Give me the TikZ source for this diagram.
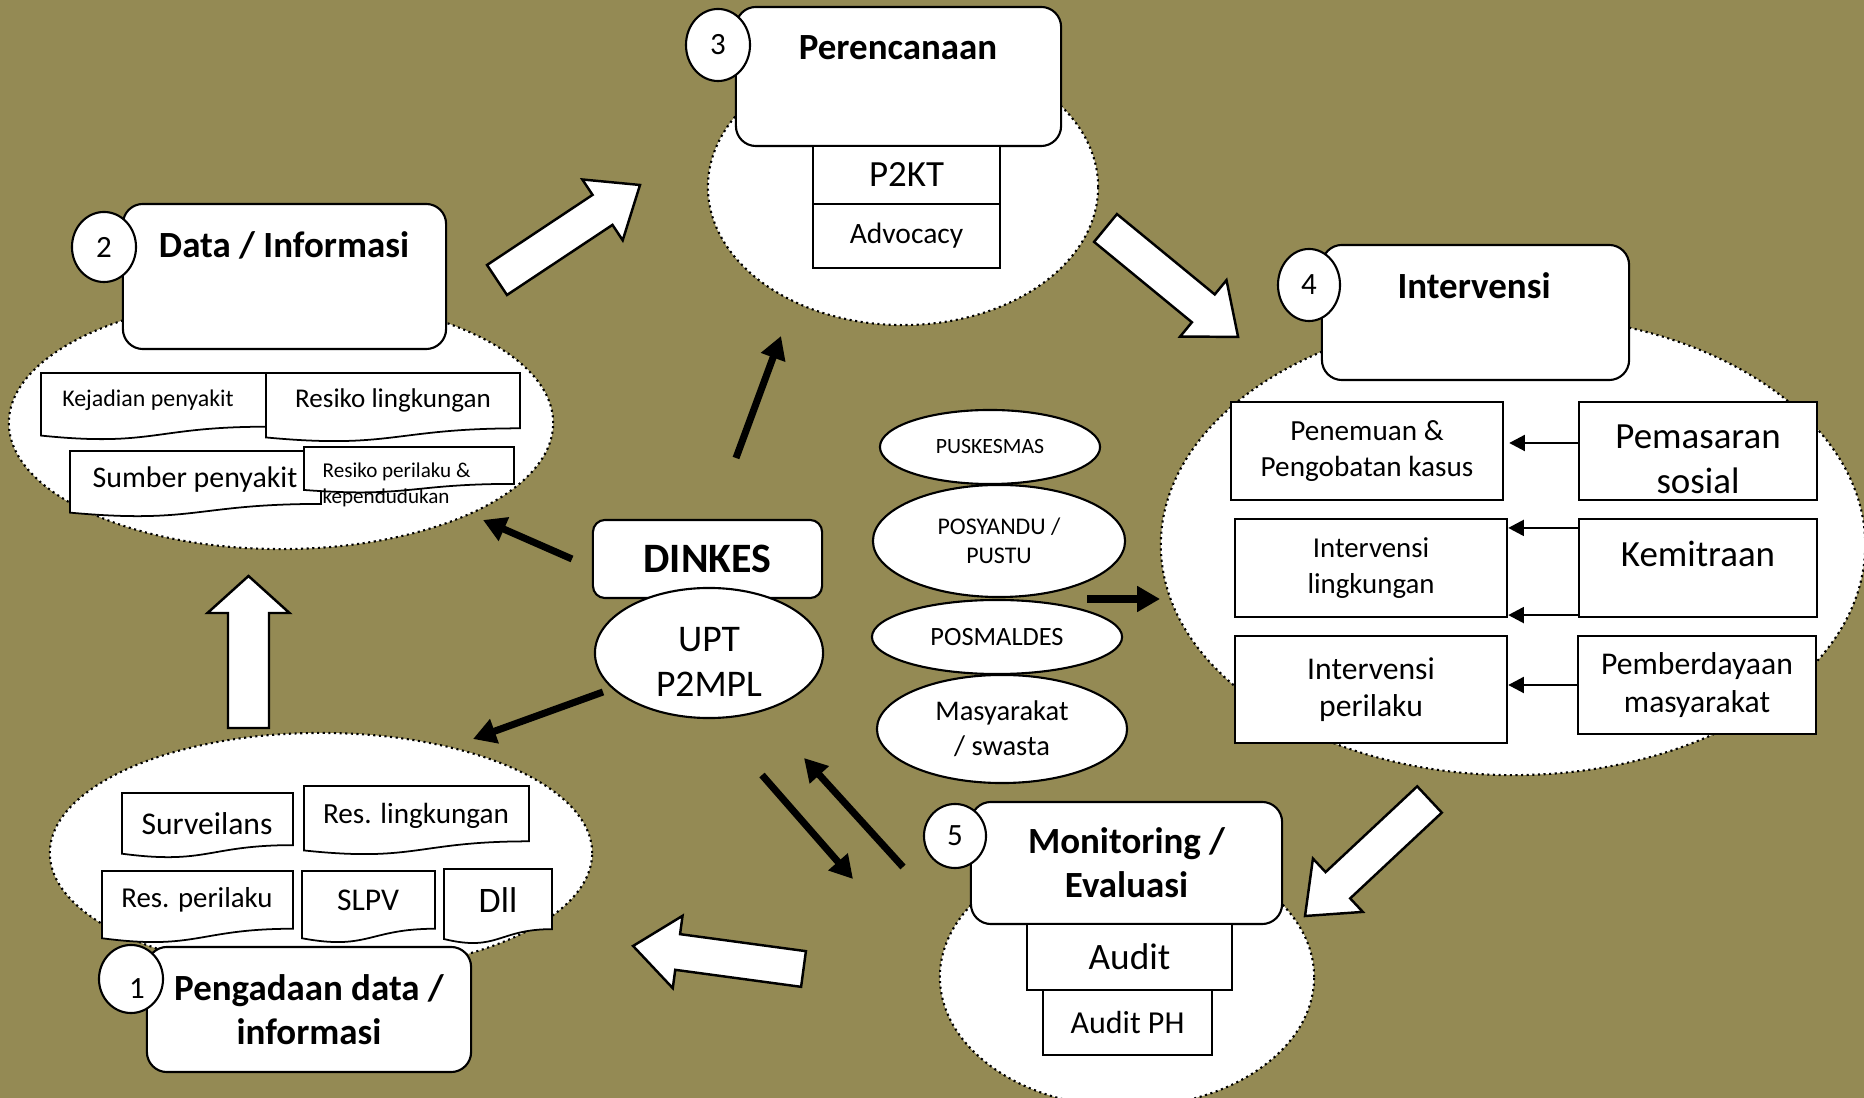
\documentclass[tikz,border=0pt]{standalone}
\usepackage{fontspec}
\setmainfont{Carlito}
\usepackage{tikz}
\usetikzlibrary{arrows.meta,calc,shapes.geometric}
\definecolor{olivebg}{RGB}{148,138,84}

% dokumen dengan tepi bawah bergelombang
\newcommand{\docshape}[4]{%
  \draw[docline] (#1,#2) -- (#3,#2) -- (#3,{#2+0.802*(#4-#2)})
    .. controls ({(#1+#3)/2},{#2+0.802*(#4-#2)}) and ({(#1+#3)/2},{#2+1.107*(#4-#2)}) .. (#1,{#2+0.934*(#4-#2)}) -- cycle;}
% panah blok putih: ekor, sudut, panjang, setengah badan, setengah kepala, panjang kepala
\newcommand{\fatarrow}[6]{%
  \draw[fatarr,shift={#1},rotate=#2]
    (0,#4) -- ({#3-#6},#4) -- ({#3-#6},#5) -- (#3,0)
    -- ({#3-#6},-#5) -- ({#3-#6},-#4) -- (0,-#4) -- cycle;}

\tikzset{
  bigell/.style={ellipse,draw,densely dotted,line width=0.6pt,fill=white,inner sep=0pt},
  headbox/.style={rectangle,rounded corners=0.2cm,draw,fill=white,line width=0.6pt,inner sep=0pt},
  numell/.style={ellipse,draw,fill=white,line width=0.6pt,inner sep=0pt,font=\fontsize{8.8}{10.5}\selectfont},
  sbox/.style={rectangle,draw,fill=white,line width=0.6pt,inner sep=0pt,align=center},
  midell/.style={ellipse,draw,fill=white,line width=0.6pt,inner sep=0pt,align=center},
  docline/.style={draw,fill=white,line width=0.5pt},
  dtext/.style={inner sep=0pt,align=center},
  hd/.style={font=\bfseries\fontsize{10.5}{12.5}\selectfont,align=center},
  fatarr/.style={draw,fill=white,line width=0.7pt,line join=miter},
  blk/.style={line width=2pt,-{Triangle[length=6.5pt,width=7pt]}},
  tarr/.style={line width=0.8pt,-{Triangle[length=4.5pt,width=4.5pt]}}
}

\begin{document}
\begin{tikzpicture}[x=0.01cm,y=-0.01cm]
  \clip (0,0) rectangle (1864,1098);
  \fill[olivebg] (0,0) rectangle (1864,1098);
  % elips latar
  \node[bigell,minimum width=5.44cm,minimum height=2.52cm] (ell2) at (281,423) {};
  \node[bigell,minimum width=5.42cm,minimum height=2.40cm] (ell1) at (321,853) {};
  \node[bigell,minimum width=3.90cm,minimum height=2.76cm] (ell3) at (903,187) {};
  \node[bigell,minimum width=7.04cm,minimum height=4.60cm] (ell4) at (1513,545) {};
  \node[bigell,minimum width=3.74cm,minimum height=2.60cm] (ell5) at (1127,977) {};

  % 2 data / informasi
  \node[headbox,minimum width=3.23cm,minimum height=1.45cm] (data) at (284.5,276.5) {};
  \node[numell,minimum width=0.64cm,minimum height=0.70cm] (n2) at (104,247) {2};
  \node[hd] (datat) at (284,245) {Data / Informasi};
  \docshape{41}{373}{266}{440}
  \node[dtext,font=\fontsize{6.8}{8.2}\selectfont] (kej) at (148,400) {Kejadian penyakit};
  \docshape{266}{373}{520}{442}
  \node[dtext,font=\fontsize{7.7}{9.2}\selectfont] (resl) at (393,400) {Resiko lingkungan};
  \docshape{70}{451}{321}{517}
  \node[dtext,font=\fontsize{8.5}{10.2}\selectfont] (sumb) at (195,480) {Sumber penyakit};
  \docshape{304}{447}{514}{493}
  \node[dtext,align=left,anchor=west,font=\fontsize{6}{7.4}\selectfont] (resp) at (322,485) {Resiko perilaku \&\\kependudukan};

  % 1 pengadaan data
  \node[headbox,hd,minimum width=3.24cm,minimum height=1.25cm] (peng) at (309,1009.5) {Pengadaan data /\\informasi};
  \node[numell,minimum width=0.64cm,minimum height=0.68cm] (n1) at (131,979) {};
  \node[font=\fontsize{8.8}{10.5}\selectfont] (n1t) at (137,989) {1};
  \docshape{122}{793}{293}{858}
  \node[dtext,font=\fontsize{9}{10.8}\selectfont] (surv) at (207,824) {Surveilans};
  \docshape{304}{786}{529}{855}
  \node[dtext,font=\fontsize{8.3}{10}\selectfont] (resl1) at (416,816) {Res. lingkungan};
  \docshape{102}{871}{293}{943}
  \node[dtext,font=\fontsize{8.2}{9.8}\selectfont] (resp1) at (197,900) {Res. perilaku};
  \docshape{302}{871}{435}{943}
  \node[dtext,font=\fontsize{9}{10.8}\selectfont] (slpv) at (368,900) {SLPV};
  \docshape{444}{869}{552}{944}
  \node[dtext,font=\fontsize{10.2}{12.2}\selectfont] (dll) at (498,900) {Dll};

  % 3 perencanaan
  \node[headbox,minimum width=3.25cm,minimum height=1.39cm] (pere) at (898.5,76.5) {};
  \node[numell,minimum width=0.64cm,minimum height=0.72cm] (n3) at (718,45) {3};
  \node[hd] (peret) at (898,48) {Perencanaan};
  \node[sbox,minimum width=1.87cm,minimum height=0.58cm,font=\fontsize{10.5}{12.6}\selectfont] (p2kt) at (906.5,175) {\raisebox{-0.06cm}{P2KT}};
  \node[sbox,minimum width=1.87cm,minimum height=0.64cm,font=\fontsize{8.4}{10}\selectfont] (advo) at (906.5,236) {Advocacy};

  % 4 intervensi
  \node[headbox,minimum width=3.07cm,minimum height=1.35cm] (interv) at (1475.5,312.5) {};
  \node[numell,minimum width=0.62cm,minimum height=0.72cm] (n4) at (1309,285) {4};
  \node[hd] (intervt) at (1474,286) {Intervensi};
  \node[sbox,minimum width=2.72cm,minimum height=0.98cm,font=\fontsize{8.3}{10.2}\selectfont] (pen) at (1367,451) {Penemuan \&\\Pengobatan kasus};
  \node[sbox,minimum width=2.38cm,minimum height=0.98cm] (pms) at (1698,451) {};
  \node[dtext,font=\fontsize{10.5}{12.7}\selectfont] (pmst) at (1698,459) {Pemasaran\\sosial};
  \node[sbox,minimum width=2.72cm,minimum height=0.98cm,font=\fontsize{8.2}{10}\selectfont] (ilk) at (1371,568) {Intervensi\\lingkungan};
  \node[sbox,minimum width=2.38cm,minimum height=0.98cm] (kem) at (1698,568) {};
  \node[dtext,font=\fontsize{10.5}{12.7}\selectfont] (kemt) at (1698,554) {Kemitraan};
  \node[sbox,minimum width=2.72cm,minimum height=1.07cm,font=\fontsize{9}{10.6}\selectfont] (ipr) at (1371,689.5) {Intervensi\\perilaku};
  \node[sbox,minimum width=2.38cm,minimum height=0.98cm,font=\fontsize{9}{10.6}\selectfont] (pmb) at (1697,685) {Pemberdayaan\\masyarakat};
  \draw[tarr,shorten >=0.05cm] ([yshift=0.08cm]pms.west) -- ([yshift=0.08cm]pen.east);
  \draw[tarr] ([yshift=-0.1cm]kem.north west) -- ([yshift=-0.1cm]ilk.north east);
  \draw[tarr] ([yshift=0.03cm]kem.south west) -- ([yshift=0.03cm]ilk.south east);
  \draw[tarr] (pmb.west) -- (pmb.west -| ipr.east);

  % 5 monitoring / evaluasi
  \node[headbox,hd,minimum width=3.11cm,minimum height=1.22cm] (moni) at (1126.5,863) {Monitoring /\\Evaluasi};
  \node[numell,minimum width=0.62cm,minimum height=0.64cm] (n5) at (955,836) {5};
  \node[sbox,minimum width=2.05cm,minimum height=0.66cm,font=\fontsize{10.6}{12.7}\selectfont] (audit) at (1129.5,957) {Audit};
  \node[sbox,minimum width=1.69cm,minimum height=0.65cm,font=\fontsize{9.1}{10.9}\selectfont] (auditph) at (1127.5,1022.5) {Audit PH};

  % tengah
  \node[headbox,rounded corners=0.12cm,minimum width=2.29cm,minimum height=0.78cm,font=\bfseries\fontsize{11.9}{14.3}\selectfont] (dinkes) at (707.5,559) {DINKES};
  \node[midell,minimum width=2.28cm,minimum height=1.30cm] (upt) at (709,653) {};
  \node[dtext,font=\fontsize{10.7}{12.6}\selectfont] (uptt) at (709,662) {UPT\\P2MPL};
  \node[midell,minimum width=2.20cm,minimum height=0.74cm,font=\fontsize{6.2}{7.5}\selectfont] (pusk) at (990,447) {PUSKESMAS};
  \node[midell,minimum width=2.52cm,minimum height=1.12cm,font=\fontsize{6.8}{8.2}\selectfont] (posy) at (999,541) {POSYANDU /\\PUSTU};
  \node[midell,minimum width=2.50cm,minimum height=0.74cm,font=\fontsize{7.5}{9}\selectfont] (posm) at (997,637) {POSMALDES};
  \node[midell,minimum width=2.50cm,minimum height=1.08cm,font=\fontsize{8.1}{9.7}\selectfont] (masy) at (1002,729) {\raisebox{-0.05cm}{\shortstack{Masyarakat\\/ swasta}}};

  % panah hitam
  \coordinate (a1s) at (736,458); \coordinate (a1e) at (781,336);
  \coordinate (a2s) at (572,559); \coordinate (a2e) at (483,520);
  \coordinate (a3s) at (603,692); \coordinate (a3e) at (473,739);
  \coordinate (a4s) at (1087,599); \coordinate (a4e) at (1160,599);
  \coordinate (a5s) at (762,775); \coordinate (a5e) at (853,879);
  \coordinate (a6s) at (903,867); \coordinate (a6e) at (804,758);
  \draw[blk] (a1s) -- (a1e);
  \draw[blk] (a2s) -- (a2e);
  \draw[blk] (a3s) -- (a3e);
  \draw[blk] (a4s) -- (a4e);
  \draw[blk] (a5s) -- (a5e);
  \draw[blk] (a6s) -- (a6e);

  % panah blok siklus
  \fatarrow{(248.5,728)}{90}{152}{20.5}{41}{37}
  \fatarrow{(497,280)}{33.6}{171.7}{18}{36.5}{45}
  \fatarrow{(1105.5,228)}{-39.4}{171.6}{18}{36.5}{45}
  \fatarrow{(1429.5,799.5)}{-136.9}{170.5}{18}{36.5}{45}
  \fatarrow{(803.5,969)}{172.3}{172}{18}{36.5}{45}
\end{tikzpicture}
\end{document}
